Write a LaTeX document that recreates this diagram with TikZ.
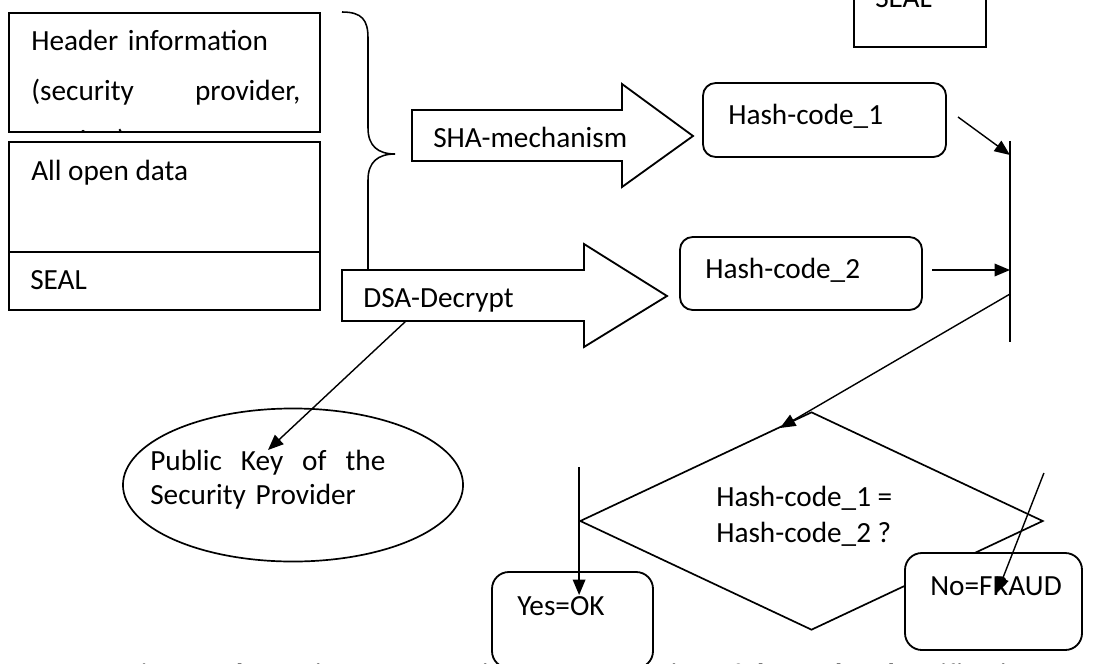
\documentclass[tikz,border=0pt]{standalone}
\usepackage{fontspec}
\setmainfont{Carlito}
\usepackage{tikz}
\usetikzlibrary{positioning,fit,shapes.geometric,arrows.meta}

\newcommand{\lbl}{\fontsize{20.8}{25}\selectfont}

\tikzset{
  box/.style={draw, line width=1.3pt, inner sep=0pt, fill=white},
  rbox/.style={box, rounded corners=9pt},
  txt/.style={inner sep=0pt, anchor=base west, font=\lbl},
  link/.style={line width=1pt, -{Triangle[length=11pt,width=9pt]}},
  blockarrow/.style={draw, line width=1.3pt, fill=white, line join=miter},
}

\begin{document}
\begin{tikzpicture}[x=0.025cm, y=-0.025cm]
  \useasboundingbox (0,0) rectangle (1108,663);
  \clip (0,0) rectangle (1108,663);

  % caption, cut by the lower edge
  \node[txt, font=\lbl\bfseries] (cap1) at (127,684) {Fig. 3: Schematic representation};
  \node[txt, font=\lbl\bfseries] (cap2) at (660,684) {tion of the seal and verification};

  % the record: header, open data, seal
  \node[box, fit={(9,13) (320,132)}] (hdr) {};
  \begin{scope}
    \clip (9,13) rectangle (320,132);
    \node[txt, text width=6.725cm, align=left, font=\fontsize{20.8}{35.4}\selectfont] (hdrtext) at (31,51)
      {Header information\\(security\hfill provider,\\version)};
  \end{scope}
  \node[box, fit={(9,142) (320,252)}] (open) {};
  \node[box, fit={(9,252) (320,310)}] (seal) {};
  \node[txt] (opentext) at (31,180) {All open data};
  \node[txt] (sealtext) at (30,289) {SEAL};

  % brace over the record
  \draw[line width=1.1pt] (342,12) .. controls (362,12) and (368,20) .. (368,38) -- (368,128)
    .. controls (368,146) and (378,154) .. (395,154)
    .. controls (378,154) and (368,162) .. (368,180) -- (368,276)
    .. controls (368,290) and (360,296) .. (342,296);

  % block arrows
  \draw[blockarrow] (412,110) -- (622,110) -- (622,84) -- (693,136) -- (622,187) -- (622,161) -- (412,161) -- cycle;
  \node[txt] (sha) at (433,147) {SHA-mechanism};
  \draw[blockarrow] (342,270) -- (584,270) -- (584,244) -- (667,296) -- (584,347) -- (584,321) -- (342,321) -- cycle;
  \node[txt] (dsa) at (363,307) {DSA-Decrypt};
  \coordinate (dsafoot) at (406,321);

  % hash codes
  \node[rbox, fit={(703,83) (946,157)}] (hash1) {};
  \node[txt] (hash1text) at (728,125) {Hash-code\_1};
  \node[rbox, fit={(680,237) (922,310)}] (hash2) {};
  \node[txt] (hash2text) at (705,278) {Hash-code\_2};

  % collecting bar
  \coordinate (bartop) at (1010,141);
  \coordinate (barbot) at (1010,342);
  \coordinate (in1) at (1010,155);
  \coordinate (in2) at (1010,270);
  \coordinate (out) at (1010,294);
  \coordinate (h1out) at (958,117);
  \coordinate (h2out) at (932,270);
  \draw[line width=1pt] (bartop) -- (barbot);
  \draw[link] (h1out) -- (in1);
  \draw[link] (h2out) -- (in2);

  % public key
  \node[draw, ellipse, line width=1.2pt, minimum width=8.5cm, minimum height=3.825cm, inner sep=0pt] (key) at (293,485) {};
  \node[txt, text width=5.875cm, align=left, font=\fontsize{20.8}{24.8}\selectfont] (keytext) at (150,470)
    {Public\hfill Key\hfill of\hfill the\\Security Provider};
  \coordinate (keyin) at (268,450);
  \draw[link] (dsafoot) -- (keyin);

  % comparison
  \node[draw, diamond, line width=1.2pt, minimum width=11.575cm, minimum height=5.45cm, inner sep=0pt] (check) at (811.5,521) {};
  \node[txt, align=left, font=\fontsize{20.8}{25.5}\selectfont] (checktext) at (716,542) {Hash-code\_1 =\\Hash-code\_2 ?};
  \coordinate (checkin) at (780,428);
  \draw[link] (out) -- (checkin);

  % outcomes
  \node[rbox, rounded corners=12pt, fit={(492,572) (653,668)}] (yes) {};
  \node[txt] (yestext) at (517,615) {Yes=OK};
  \coordinate (yesfrom) at (check.west |- 0,467);
  \coordinate (yesin) at (check.west |- 0,595);
  \draw[link] (yesfrom) -- (yesin);

  \node[rbox, rounded corners=12pt, fit={(905,553) (1082,650)}] (fraud) {};
  \node[txt] (fraudtext) at (930,595) {No=FRAUD};
  \coordinate (fraudfrom) at (check.east |- 0,473);
  \coordinate (fraudin) at (997,593);
  \draw[link] (fraudfrom) -- (fraudin);

  % seal box at the top
  \node[box, fit={(854,-30) (986,47)}] (topseal) {};
  \node[txt] (topsealtext) at (875,8) {SEAL};
\end{tikzpicture}
\end{document}
